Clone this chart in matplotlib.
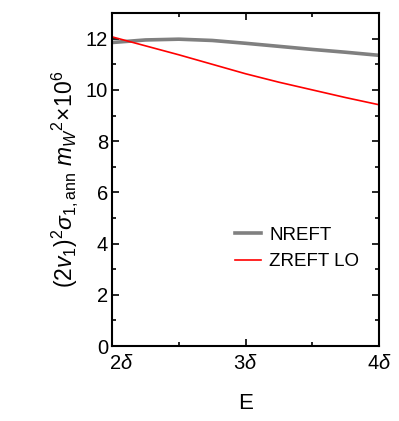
import matplotlib
matplotlib.use("Agg")
import matplotlib.pyplot as plt
from matplotlib.ticker import MultipleLocator
from matplotlib.transforms import ScaledTranslation

plt.rcParams['font.family'] = ['Liberation Sans', 'DejaVu Sans']
plt.rcParams['mathtext.fontset'] = 'custom'
plt.rcParams['mathtext.rm'] = 'Liberation Sans'
plt.rcParams['mathtext.it'] = 'Liberation Sans:italic'

# energy in units of delta
E = [2.0, 2.25, 2.5, 2.75, 3.0, 3.25, 3.5, 3.75, 4.0]
nreft = [11.85, 11.95, 11.98, 11.93, 11.82, 11.70, 11.58, 11.47, 11.35]
zreft_lo = [12.07, 11.72, 11.37, 11.00, 10.63, 10.30, 10.00, 9.70, 9.42]

xtick_pos = [2, 3, 4]
xtick_labels = [r'$2\delta$', r'$3\delta$', r'$4\delta$']

fig = plt.figure(figsize=(3.99, 4.21), dpi=100)
ax = fig.add_axes([0.281, 0.178, 0.669, 0.791])

ax.plot(E, nreft, color='#808080', lw=2.6, label='NREFT')
ax.plot(E, zreft_lo, color='#ff0000', lw=1.2, label='ZREFT LO')

ax.set_xlim(2, 4)
ax.set_ylim(0, 13)
ax.set_xticks(xtick_pos)
ax.set_xticklabels(xtick_labels)
ax.xaxis.set_minor_locator(MultipleLocator(0.5))
ax.yaxis.set_major_locator(MultipleLocator(2))
ax.yaxis.set_minor_locator(MultipleLocator(1))
ax.tick_params(which='both', direction='in', top=True, right=True, labelsize=14.5, width=1.2)
ax.tick_params(which='major', length=5)
ax.tick_params(which='minor', length=3)
ax.tick_params(axis='x', pad=6)
ax.tick_params(axis='y', pad=3)
for s in ax.spines.values():
    s.set_linewidth(1.5)

# first x label sits a bit to the right, clear of the 0
lab0 = ax.get_xticklabels()[0]
lab0.set_transform(lab0.get_transform() + ScaledTranslation(0.09, 0, fig.dpi_scale_trans))

ax.set_xlabel('E', fontsize=16, labelpad=14)
ax.set_ylabel(r'$(2v_1)^2\sigma_{1,\mathrm{ann}}\ m_W{}^2\!\times\!10^6$', fontsize=16.5, labelpad=4)

ax.legend(loc='upper left', bbox_to_anchor=(0.462, 0.358), frameon=False, fontsize=13.5,
          borderaxespad=0, borderpad=0,
          handlelength=1.35, handletextpad=0.45, labelspacing=0.5)

fig.savefig('out.png', dpi=100)
